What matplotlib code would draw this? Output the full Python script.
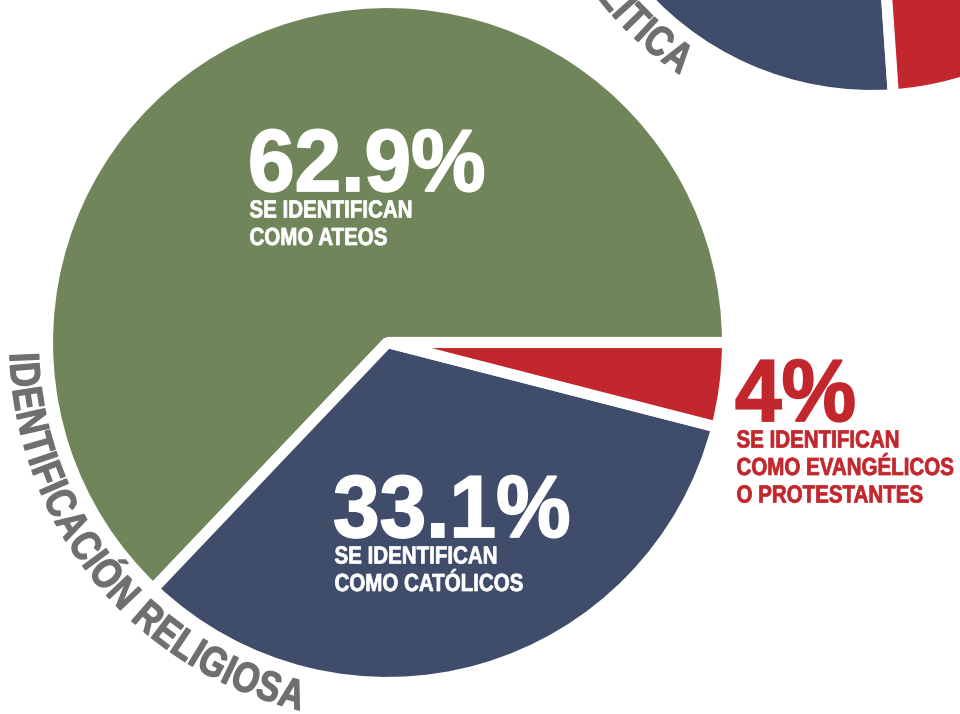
import matplotlib
matplotlib.use('Agg')
import matplotlib.pyplot as plt
import numpy as np
from matplotlib.font_manager import FontProperties
from matplotlib.patheffects import AbstractPathEffect
from matplotlib.transforms import Affine2D

# religious identification (main pie)
rel_values = [62.9, 33.1, 4.0]
rel_pct = ['62.9%', '33.1%', '4%']
rel_lines = [['SE IDENTIFICAN', 'COMO ATEOS'],
             ['SE IDENTIFICAN', 'COMO CATÓLICOS'],
             ['SE IDENTIFICAN', 'COMO EVANGÉLICOS', 'O PROTESTANTES']]
rel_title = 'IDENTIFICACIÓN RELIGIOSA'

# political identification (pie cut off at the top right)
pol_values = [45.0, 31.1, 23.9]
pol_title = 'IDENTIFICACIÓN POLÍTICA'

colors = ['#70855a', '#3f4d6b', '#c1272d']
text_colors = ['white', 'white', '#c1272d']
gray = '#6f6f6f'
FONT = 'Liberation Sans'


class Squeeze(AbstractPathEffect):
    """Narrow (and thicken) the glyphs along the text direction,
    since no condensed bold font is installed."""

    def __init__(self, sx, about='left', lw=0.0):
        super().__init__()
        self.sx = sx
        self.about = about
        self.lw = lw

    def draw_path(self, renderer, gc, tpath, affine, rgbFace=None):
        m = affine.get_matrix()
        ang = np.arctan2(m[1, 0], m[0, 0])
        if self.about == 'center':
            ext = tpath.get_extents()
            x0, y0 = affine.transform([(ext.x0 + ext.x1) / 2, 0])
        else:
            x0, y0 = m[0, 2], m[1, 2]
        sq = (Affine2D().translate(-x0, -y0).rotate(-ang).scale(self.sx, 1)
              .rotate(ang).translate(x0, y0))
        renderer.draw_path(gc, tpath, affine + sq, rgbFace)
        if self.lw > 0 and rgbFace is not None:
            gc0 = renderer.new_gc()
            gc0.copy_properties(gc)
            gc0.set_linewidth(self.lw)
            gc0.set_foreground(rgbFace)
            gc0.set_joinstyle('miter')
            renderer.draw_path(gc0, tpath, affine + sq, None)
            gc0.restore()


def arc_text(ax, s, center, r_base, size, sx, lw, start=None, end=None, color=gray):
    # one character at a time, counter-clockwise, letter tops to the centre
    renderer = ax.figure.canvas.get_renderer()
    fp = FontProperties(family=FONT, weight='bold', size=size)

    def w(t):
        return renderer.get_text_width_height_descent(t, fp, ismath=False)[0]

    hh = w('HH')
    widths = [(w('H' + c + 'H') - hh) * sx for c in s]
    cap = renderer.get_text_width_height_descent('H', fp, ismath=False)[1]
    r_mid = r_base - cap / 2
    total = sum(widths) / r_mid
    ang = np.radians(end) - total if start is None else np.radians(start)
    for c, cw in zip(s, widths):
        a = ang + (cw / 2) / r_mid
        x = center[0] + r_base * np.cos(a)
        y = center[1] + r_base * np.sin(a)
        ax.text(x, y, c, rotation=np.degrees(a) + 90, rotation_mode='anchor',
                ha='center', va='baseline', fontproperties=fp, color=color,
                path_effects=[Squeeze(sx, 'center', lw)])
        ang += cw / r_mid


fig = plt.figure(figsize=(9.6, 7.14), dpi=100)
ax = fig.add_axes([0, 0, 1, 1])

wp = dict(edgecolor='white', linewidth=8, joinstyle='bevel')
ax.pie(rel_values, colors=colors, startangle=0, counterclock=True,
       center=(387.5, 371.5), radius=340, wedgeprops=wp, frame=False)
ax.pie(pol_values, colors=colors, startangle=0, counterclock=True,
       center=(872, 928), radius=309.5, wedgeprops=wp, frame=False)

ax.set_xlim(0, 960)
ax.set_ylim(0, 714)
ax.set_aspect('equal')
ax.axis('off')

# labels inside / next to the wedges
label_xy = [(248, 523), (333, 177), (735, 293)]
for (x, y), pct, lines, tc in zip(label_xy, rel_pct, rel_lines, text_colors):
    ax.text(x, y, pct, ha='left', va='baseline', color=tc, fontsize=63.5,
            fontweight='bold', family=FONT, path_effects=[Squeeze(0.95, lw=1.3)])
    for i, line in enumerate(lines):
        ax.text(x + 1.5, y - 26.5 - 27.5 * i, line, ha='left', va='baseline',
                color=tc, fontsize=17.8, fontweight='bold', family=FONT,
                path_effects=[Squeeze(0.83, lw=0.55)])

arc_text(ax, rel_title, (387.5, 371.5), 378, 30.5, 0.81, 0.9, start=181.6)
arc_text(ax, pol_title, (872, 928), 346.5, 30.5, 0.81, 0.9, end=236.5)

fig.savefig('out.png', dpi=100)
plt.close(fig)
